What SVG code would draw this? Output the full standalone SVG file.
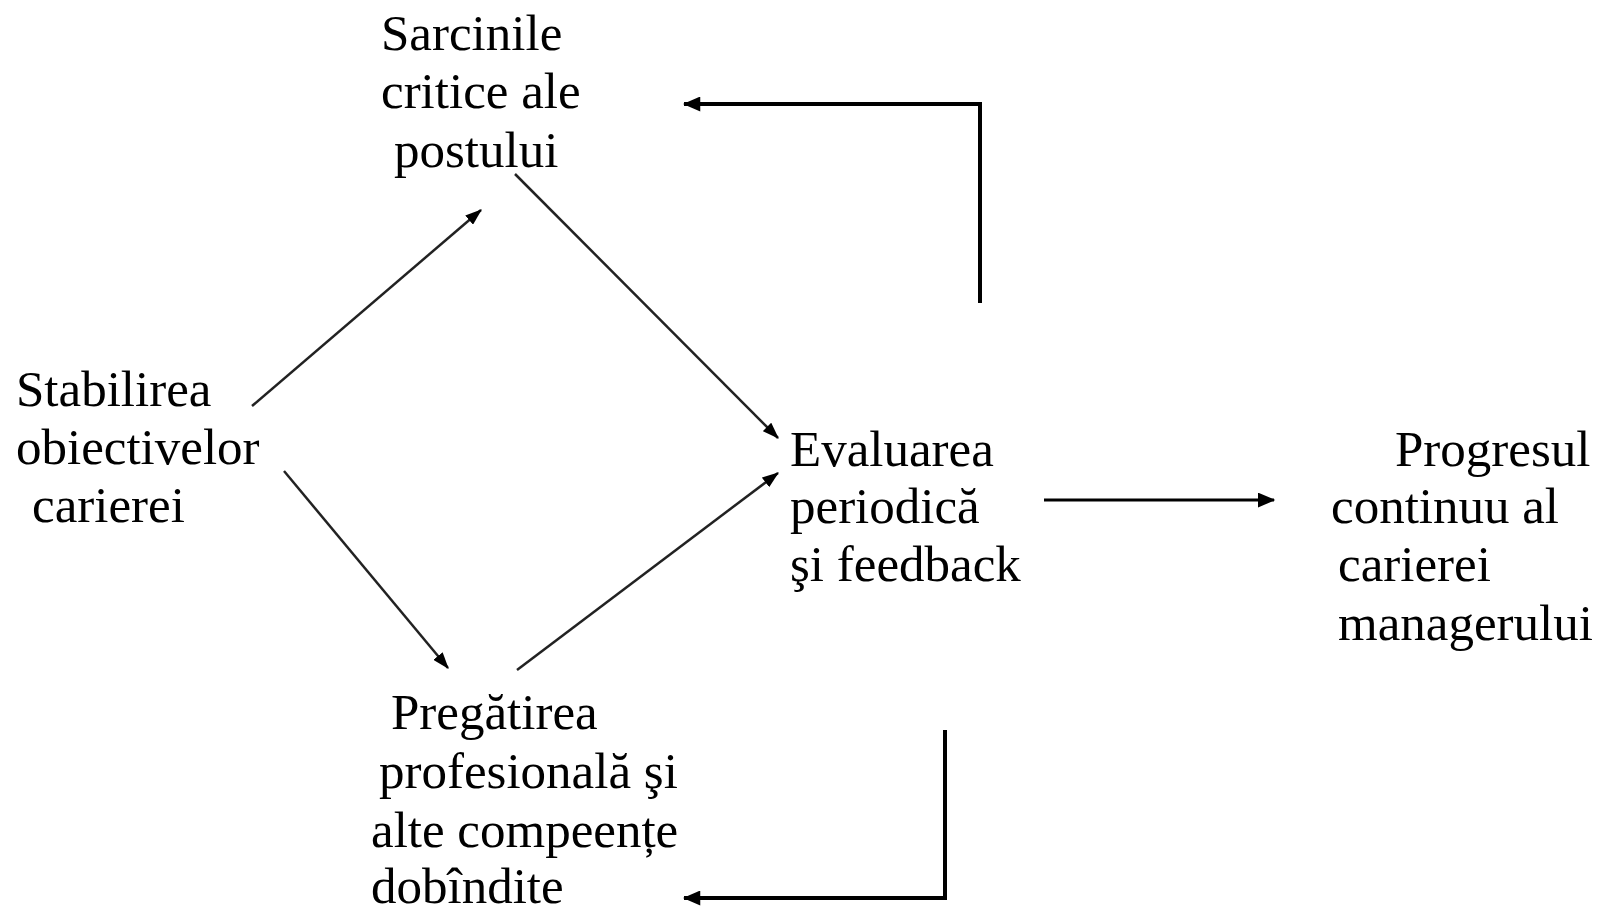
<svg xmlns="http://www.w3.org/2000/svg" width="1605" height="911" viewBox="0 0 1605 911">
<defs>
<style>
text{font-family:"Liberation Serif","Times New Roman",serif;font-size:51px;fill:#000;}
.thin{stroke:#222;stroke-width:2.5;fill:none;}
.mid{stroke:#000;stroke-width:3;fill:none;}
.thick{stroke:#000;stroke-width:4;fill:none;}
</style>
<marker id="ah" viewBox="0 0 14 10" markerUnits="userSpaceOnUse" markerWidth="17" markerHeight="12" refX="13" refY="5" orient="auto">
<path d="M0,0 L14,5 L0,10 z" fill="#000"/>
</marker>
<marker id="ahb" viewBox="0 0 14 12" markerUnits="userSpaceOnUse" markerWidth="18" markerHeight="15" refX="13" refY="6" orient="auto">
<path d="M0,0 L14,6 L0,12 z" fill="#000"/>
</marker>
</defs>
<rect width="1605" height="911" fill="#fff"/>
<g id="connectors">
<line class="thin" x1="252" y1="406" x2="481" y2="210" marker-end="url(#ah)"/>
<line class="thin" x1="515" y1="174" x2="778" y2="438" marker-end="url(#ah)"/>
<line class="thin" x1="284" y1="471" x2="448" y2="668" marker-end="url(#ah)"/>
<line class="thin" x1="517" y1="670" x2="778" y2="473" marker-end="url(#ah)"/>
<line class="mid" x1="1044" y1="500" x2="1274" y2="500" marker-end="url(#ahb)"/>
<polyline class="thick" points="980,303 980,104 684,104" marker-end="url(#ahb)"/>
<polyline class="thick" points="945,730 945,898 684,898" marker-end="url(#ahb)"/>
</g>
<g id="sarcinile">
<text x="381" y="50">Sarcinile</text>
<text x="381" y="108">critice ale</text>
<text x="394" y="167">postului</text>
</g>
<g id="stabilirea">
<text x="16" y="406">Stabilirea</text>
<text x="16" y="464">obiectivelor</text>
<text x="32" y="522">carierei</text>
</g>
<g id="evaluarea">
<text x="790" y="466">Evaluarea</text>
<text x="790" y="523">periodică</text>
<text x="790" y="581">şi feedback</text>
</g>
<g id="progresul">
<text x="1395" y="466">Progresul</text>
<text x="1331" y="523">continuu al</text>
<text x="1338" y="581">carierei</text>
<text x="1338" y="640">managerului</text>
</g>
<g id="pregatirea">
<text x="391" y="729">Pregătirea</text>
<text x="379" y="788">profesională şi</text>
<text x="371" y="847">alte compeențe</text>
<text x="371" y="903">dobîndite</text>
</g>
</svg>
